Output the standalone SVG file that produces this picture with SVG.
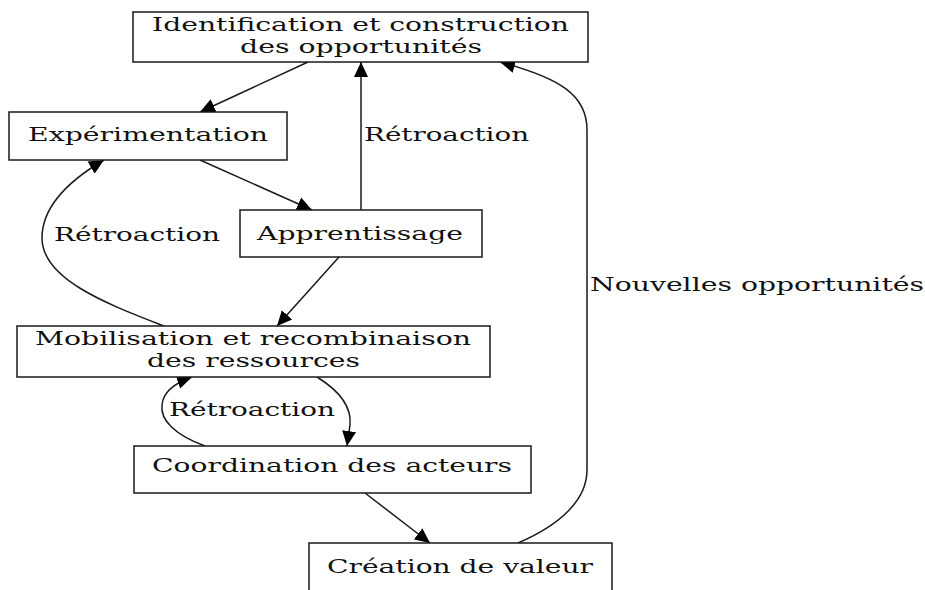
<svg xmlns="http://www.w3.org/2000/svg" width="925" height="590" viewBox="0 0 925 590">
<style>
  .box { fill: #ffffff; stroke: #1a1a1a; stroke-width: 1.5; }
  .lbl { font-family: "DejaVu Serif", "Liberation Serif", serif; font-size: 18.5px; fill: #111; }
  .edge { fill: none; stroke: #1a1a1a; stroke-width: 1.5; }
</style>
<defs>
  <marker id="arr" markerUnits="userSpaceOnUse" markerWidth="16" markerHeight="16" viewBox="0 0 16 16" refX="15" refY="8" orient="auto">
    <path d="M0,1 L15,8 L0,15 z" fill="#000"/>
  </marker>
</defs>
<rect width="925" height="590" fill="#ffffff"/>

<g id="connectors">
  <path class="edge" d="M308,62 L200,112" marker-end="url(#arr)"/>
  <path class="edge" d="M200,160 L312,210" marker-end="url(#arr)"/>
  <path class="edge" d="M361,210 L361,62" marker-end="url(#arr)"/>
  <text class="lbl" x="364" y="141" textLength="165" lengthAdjust="spacingAndGlyphs">Rétroaction</text>
  <path class="edge" d="M164,326 C110,305 42,280 42,238 C42,205 70,180 104,160" marker-end="url(#arr)"/>
  <text class="lbl" x="54" y="241" textLength="166" lengthAdjust="spacingAndGlyphs">Rétroaction</text>
  <path class="edge" d="M339,257 L277,326" marker-end="url(#arr)"/>
  <path class="edge" d="M317,377 C338,390 352,405 350,425 L347,446" marker-end="url(#arr)"/>
  <path class="edge" d="M205,446 C175,435 160,420 162,405 C163,392 175,383 192,377" marker-end="url(#arr)"/>
  <text class="lbl" x="169" y="416" textLength="166" lengthAdjust="spacingAndGlyphs">Rétroaction</text>
  <path class="edge" d="M365,493 L430,543" marker-end="url(#arr)"/>
  <path class="edge" d="M518,543 C560,525 587,500 587,470 L587,130 C587,95 560,78 500,62" marker-end="url(#arr)"/>
  <text class="lbl" x="590" y="291" textLength="334" lengthAdjust="spacingAndGlyphs">Nouvelles opportunités</text>
</g>

<g id="n_identification">
  <rect class="box" x="133" y="12" width="455" height="50"/>
  <text class="lbl" x="152" y="31" textLength="417" lengthAdjust="spacingAndGlyphs">Identification et construction</text>
  <text class="lbl" x="240" y="53" textLength="242" lengthAdjust="spacingAndGlyphs">des opportunités</text>
</g>
<g id="n_experimentation">
  <rect class="box" x="9" y="112" width="278" height="48"/>
  <text class="lbl" x="28" y="141" textLength="240" lengthAdjust="spacingAndGlyphs">Expérimentation</text>
</g>
<g id="n_apprentissage">
  <rect class="box" x="240" y="210" width="242" height="47"/>
  <text class="lbl" x="257" y="240" textLength="206" lengthAdjust="spacingAndGlyphs">Apprentissage</text>
</g>
<g id="n_mobilisation">
  <rect class="box" x="17" y="326" width="473" height="51"/>
  <text class="lbl" x="35" y="345" textLength="436" lengthAdjust="spacingAndGlyphs">Mobilisation et recombinaison</text>
  <text class="lbl" x="147" y="367" textLength="213" lengthAdjust="spacingAndGlyphs">des ressources</text>
</g>
<g id="n_coordination">
  <rect class="box" x="134" y="446" width="397" height="47"/>
  <text class="lbl" x="152" y="472" textLength="360" lengthAdjust="spacingAndGlyphs">Coordination des acteurs</text>
</g>
<g id="n_creation">
  <rect class="box" x="309" y="543" width="303" height="52"/>
  <text class="lbl" x="327" y="573" textLength="266" lengthAdjust="spacingAndGlyphs">Création de valeur</text>
</g>
</svg>
